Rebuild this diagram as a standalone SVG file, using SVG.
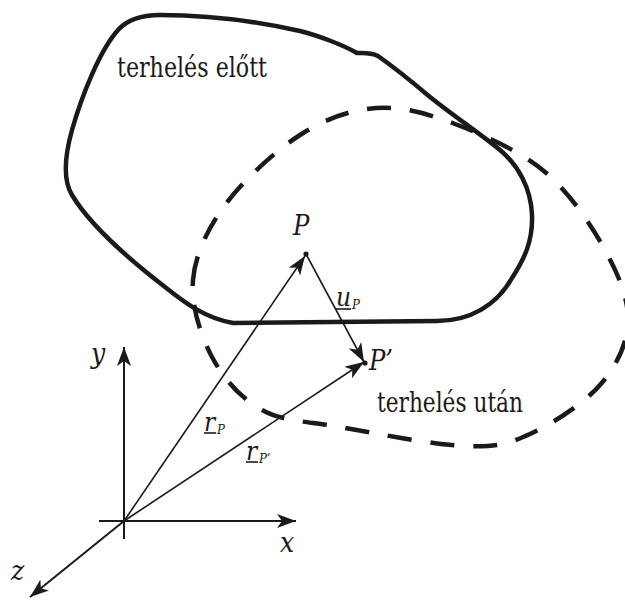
<svg xmlns="http://www.w3.org/2000/svg" width="625" height="601" viewBox="0 0 625 601">
<style>
.body{fill:none;stroke:#1a1a1a;stroke-width:4.5;stroke-linejoin:round}
.dash{stroke-dasharray:24 19;stroke-linecap:butt}
.axis{stroke:#1a1a1a;stroke-width:2;fill:none}
.vec{stroke:#1a1a1a;stroke-width:1.6;fill:none}
text{fill:#1a1a1a;font-family:'DejaVu Serif Condensed','DejaVu Serif',serif;font-stretch:condensed}
.lbl{font-style:italic}
.txt{font-size:27px}
.ul{stroke:#1a1a1a;stroke-width:1.6}
</style>
<defs>
<marker id="ah" viewBox="0 0 20 14" refX="19" refY="7" markerWidth="20" markerHeight="14" orient="auto" markerUnits="userSpaceOnUse">
<path d="M0,0 L19,7 L0,14 L5,7 Z" fill="#1a1a1a"/>
</marker>
</defs>
<rect width="625" height="601" fill="#fff"/>
<g id="before">
<path class="body" d="M 233 323 L 437 321 C 470 321, 497 305, 512 278 C 525 258, 533 240, 532 215 C 531 188, 518 165, 500 150 C 482 135, 455 117, 430 97 C 410 80, 395 68, 378 56 C 370 52, 362 53, 357 53 C 345 46, 320 36, 300 31 C 260 22, 210 15, 160 15 C 140 15, 127 20, 118 30 C 100 50, 82 95, 72 130 C 65 155, 63 180, 72 195 C 90 225, 130 260, 165 287 C 185 303, 205 318, 233 323 Z"/>
<text class="txt" x="117" y="77" textLength="150" lengthAdjust="spacingAndGlyphs">terhelés előtt</text>
</g>
<g id="after">
<path class="body dash" d="M 193 280 C 195.2 254.7, 207.2 229.2, 225 205 C 242.8 180.8, 274.8 151.2, 300 135 C 325.2 118.8, 350.2 109.8, 376 108 C 401.8 106.2, 426.8 113.3, 455 124 C 483.2 134.7, 520 151, 545 172 C 570 193, 591.2 225, 605 250 C 618.8 275, 628.8 299.5, 628 322 C 627.2 344.5, 616.3 366.3, 600 385 C 583.7 403.7, 552.5 423.8, 530 434 C 507.5 444.2, 496.7 447.2, 465 446 C 433.3 444.8, 373.8 433, 340 427 C 306.2 421, 283.3 421.7, 262 410 C 240.7 398.3, 223.5 378.7, 212 357 C 200.5 335.3, 190.8 305.3, 193 280 Z"/>
<text class="txt" x="377" y="412" textLength="146" lengthAdjust="spacingAndGlyphs">terhelés után</text>
</g>
<g id="axes">
<line class="axis" x1="124" y1="539" x2="124" y2="347" marker-end="url(#ah)"/>
<line class="axis" x1="99" y1="521" x2="296" y2="521" marker-end="url(#ah)"/>
<line class="axis" x1="124" y1="521" x2="30" y2="597" marker-end="url(#ah)"/>
<text class="lbl" x="91" y="363" font-size="28">y</text>
<text class="lbl" x="280" y="552" font-size="28">x</text>
<text class="lbl" x="11" y="580" font-size="28">z</text>
</g>
<g id="connectors">
<line class="vec" x1="124" y1="521" x2="305" y2="256" marker-end="url(#ah)"/>
<line class="vec" x1="124" y1="521" x2="364" y2="362" marker-end="url(#ah)"/>
<line class="vec" x1="306" y1="254" x2="364" y2="362" marker-end="url(#ah)"/>
</g>
<g id="P">
<circle cx="306" cy="254" r="2.6" fill="#1a1a1a"/>
<text class="lbl" x="293" y="235" font-size="27">P</text>
</g>
<g id="P2">
<circle cx="365" cy="363" r="2.6" fill="#1a1a1a"/>
<text class="lbl" x="369" y="370" font-size="27">P’</text>
</g>
<g id="uP">
<text class="lbl" x="336" y="306" font-size="26">u</text>
<text class="lbl" x="352" y="309" font-size="13">P</text>
<line class="ul" x1="336" y1="309" x2="351" y2="309"/>
</g>
<g id="rP">
<text class="lbl" x="204" y="431" font-size="26">r</text>
<text class="lbl" x="217" y="434" font-size="13">P</text>
<line class="ul" x1="204" y1="433" x2="216" y2="433"/>
</g>
<g id="rP2">
<text class="lbl" x="246" y="460" font-size="26">r</text>
<text class="lbl" x="259" y="463" font-size="13">P’</text>
<line class="ul" x1="246" y1="462" x2="258" y2="462"/>
</g>
</svg>
